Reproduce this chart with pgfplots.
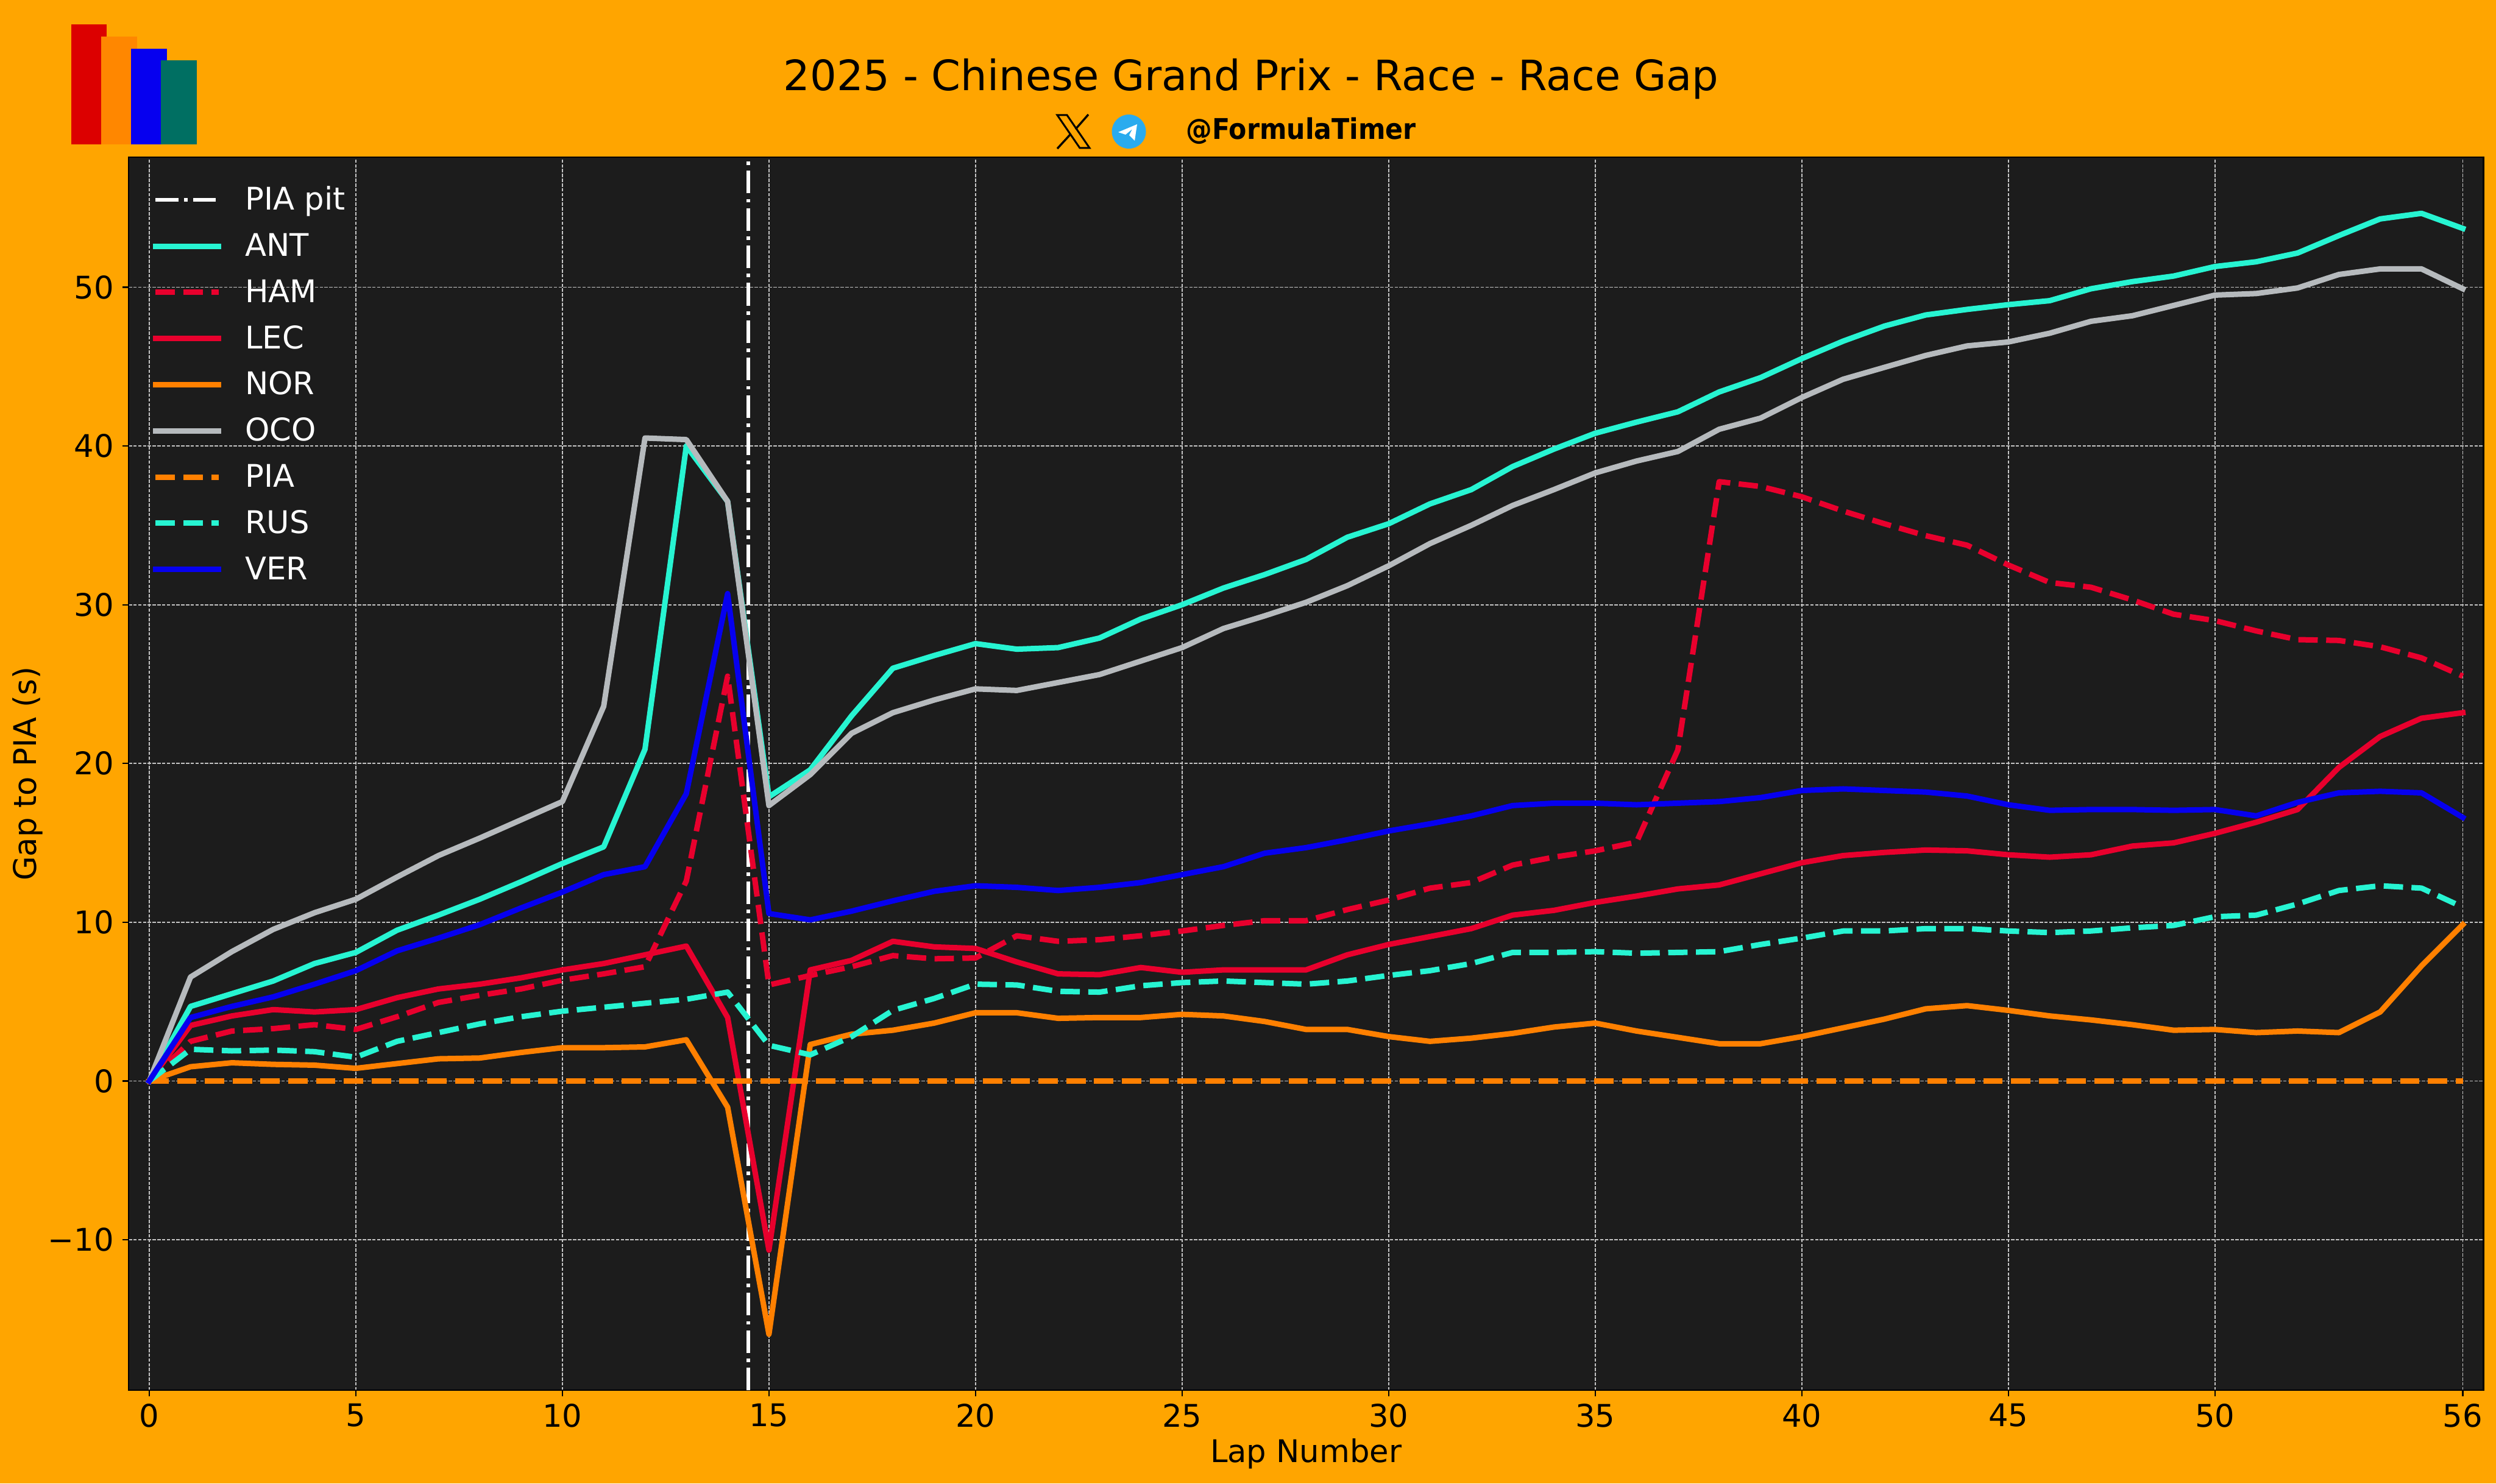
\documentclass[border=0pt]{standalone}
\usepackage{pgfplots}
\pgfplotsset{compat=1.18}
\usepackage{fontspec}
\setmainfont{DejaVu Sans}
\definecolor{bgor}{HTML}{FFA500}
\definecolor{panel}{HTML}{1C1C1C}
\definecolor{gridc}{HTML}{C4C4C4}
\definecolor{cANT}{HTML}{27F4D2}
\definecolor{cFER}{HTML}{E8002D}
\definecolor{cNOR}{HTML}{FF8000}
\definecolor{cOCO}{HTML}{B6BABD}
\definecolor{cVER}{HTML}{0600EF}
\definecolor{lgRed}{HTML}{DC0000}
\definecolor{lgOr}{HTML}{FF8700}
\definecolor{lgGr}{HTML}{006F62}
\definecolor{tg}{HTML}{2AABEE}
\pgfplotstableread{
lap ANT HAM LEC NOR OCO PIA RUS VER
0 0 0 0 0 0 0 0 0
1 4.7 2.5 3.5 0.9 6.55 0 2.0 4.0
2 5.5 3.15 4.1 1.15 8.15 0 1.9 4.7
3 6.3 3.3 4.5 1.05 9.55 0 1.95 5.3
4 7.4 3.55 4.35 1.0 10.6 0 1.85 6.1
5 8.1 3.25 4.5 0.8 11.45 0 1.5 6.95
6 9.5 4.05 5.25 1.1 12.85 0 2.5 8.2
7 10.45 4.95 5.8 1.4 14.2 0 3.05 9.0
8 11.45 5.4 6.1 1.45 15.3 0 3.6 9.85
9 12.55 5.8 6.5 1.8 16.45 0 4.05 10.9
10 13.7 6.35 7.0 2.1 17.6 0 4.4 11.9
11 14.75 6.75 7.4 2.1 23.6 0 4.65 13.0
12 20.9 7.2 7.95 2.15 40.5 0 4.9 13.5
13 40.0 12.6 8.5 2.6 40.4 0 5.15 18.1
14 36.5 25.5 4.0 -1.65 36.5 0 5.6 30.7
15 17.9 6.05 -10.65 -15.95 17.35 0 2.25 10.55
16 19.6 6.65 7.0 2.3 19.3 0 1.65 10.15
17 23.0 7.2 7.6 2.95 21.9 0 2.8 10.7
18 26.0 7.9 8.8 3.2 23.2 0 4.45 11.35
19 26.8 7.7 8.45 3.65 24.0 0 5.2 11.95
20 27.55 7.75 8.35 4.3 24.7 0 6.1 12.3
21 27.2 9.15 7.5 4.3 24.6 0 6.05 12.2
22 27.3 8.8 6.75 3.95 25.1 0 5.65 12.0
23 27.9 8.9 6.7 4.0 25.6 0 5.6 12.2
24 29.1 9.15 7.15 4.0 26.45 0 6.0 12.5
25 30.0 9.45 6.85 4.2 27.3 0 6.2 13.0
26 31.05 9.8 7.0 4.1 28.5 0 6.3 13.5
27 31.9 10.1 7.0 3.75 29.3 0 6.2 14.35
28 32.85 10.1 7.0 3.25 30.15 0 6.1 14.7
29 34.25 10.8 7.95 3.25 31.2 0 6.3 15.2
30 35.1 11.4 8.6 2.8 32.45 0 6.65 15.75
31 36.35 12.15 9.1 2.5 33.85 0 6.95 16.2
32 37.25 12.5 9.6 2.7 35.0 0 7.4 16.7
33 38.7 13.6 10.45 3.0 36.25 0 8.1 17.35
34 39.8 14.1 10.75 3.4 37.25 0 8.1 17.5
35 40.8 14.5 11.25 3.65 38.3 0 8.15 17.5
36 41.5 15.05 11.65 3.15 39.05 0 8.05 17.4
37 42.15 20.85 12.1 2.75 39.65 0 8.1 17.5
38 43.4 37.75 12.35 2.35 41.05 0 8.15 17.6
39 44.3 37.45 13.05 2.35 41.75 0 8.6 17.85
40 45.5 36.8 13.75 2.8 43.05 0 9.0 18.3
41 46.6 35.9 14.2 3.35 44.2 0 9.45 18.4
42 47.55 35.1 14.4 3.9 44.95 0 9.45 18.3
43 48.25 34.35 14.55 4.55 45.7 0 9.6 18.2
44 48.6 33.75 14.5 4.75 46.3 0 9.6 17.95
45 48.9 32.5 14.25 4.45 46.55 0 9.45 17.4
46 49.15 31.4 14.1 4.1 47.1 0 9.35 17.05
47 49.9 31.1 14.25 3.85 47.85 0 9.45 17.1
48 50.35 30.3 14.8 3.55 48.2 0 9.65 17.1
49 50.7 29.4 15.0 3.2 48.85 0 9.8 17.05
50 51.3 29.0 15.6 3.25 49.5 0 10.35 17.1
51 51.6 28.35 16.3 3.05 49.6 0 10.45 16.7
52 52.15 27.8 17.1 3.15 49.95 0 11.15 17.55
53 53.25 27.75 19.75 3.05 50.8 0 12.0 18.15
54 54.3 27.35 21.7 4.35 51.15 0 12.3 18.25
55 54.65 26.65 22.85 7.25 51.15 0 12.15 18.15
56 53.7 25.5 23.2 9.85 49.9 0 10.95 16.6
}\gaps
\pgfplotstableread{
x y
14.5 -19.48
14.5 58.18
}\pit
\def\px#1#2{({#1*0.25pt},{(2435-#2)*0.25pt})}
\begin{document}
\begin{tikzpicture}[x=1pt,y=1pt]
\useasboundingbox (0,0) rectangle (1024pt,608.75pt);
\fill[bgor] (0,0) rectangle (1024pt,608.75pt);
% logo
\fill[lgRed] \px{116.7}{40} rectangle \px{175.4}{237};
\fill[lgOr] \px{165.8}{60} rectangle \px{224.5}{237};
\fill[cVER] \px{215}{80} rectangle \px{273.6}{237};
\fill[lgGr] \px{264}{99.5} rectangle \px{322.7}{237};
% titles
\node[anchor=base,font=\fontsize{17.17}{20}\selectfont,inner sep=0pt] at \px{2053}{149} {2025 - Chinese Grand Prix - Race - Race Gap};
\node[anchor=base west,font=\fontsize{11.7}{14}\bfseries\selectfont,inner sep=0pt,xscale=0.912,transform shape] at \px{1946}{229} {@FormulaTimer};
% X icon
\draw[black,line width=0.75pt,line join=miter] \px{1735}{189} -- \px{1751}{189} -- \px{1788}{243} -- \px{1772}{243} -- cycle;
\draw[black,line width=0.85pt] \px{1786}{188} -- \px{1765}{212};
\draw[black,line width=0.85pt] \px{1735}{244} -- \px{1757}{220};
% Telegram icon
\fill[tg] \px{1852.5}{216} circle (7pt);
\fill[white] \px{1835}{217} -- \px{1866}{204} -- \px{1862}{231} -- \px{1853}{222} -- \px{1858}{212} -- \px{1847}{221} -- cycle;
\begin{axis}[
  at={(52.75pt,38.2pt)}, anchor=south west, scale only axis,
  width=966.1pt, height=506pt,
  xmin=-0.5, xmax=56.5, ymin=-19.48, ymax=58.18,
  axis background/.style={fill=panel},
  axis line style={black,line width=0.55pt},
  xtick={0,5,10,15,20,25,30,35,40,45,50,56},
  xticklabels={0,5,10,15,20,25,30,35,40,45,50,56},
  ytick={-10,0,10,20,30,40,50},
  yticklabels={−10,0,10,20,30,40,50},
  tick style={black,line width=0.55pt},
  tick align=outside, tick pos=left,
  major tick length=2.5pt,
  ticklabel style={font=\fontsize{12.8}{15}\selectfont,black},
  xticklabel style={yshift=0.5pt},
  grid=major,
  grid style={gridc,line width=0.45pt,dash pattern=on 1.38pt off 0.58pt},
  xlabel={Lap Number}, ylabel={Gap to PIA (s)},
  xlabel shift=-2.3pt, ylabel shift=-4.8pt,
  label style={font=\fontsize{12.8}{15}\selectfont,black},
  legend cell align=left,
  legend style={at={(rel axis cs:0,1)},anchor=north west,xshift=10pt,yshift=-12.2pt,
    draw=none,fill=none,text=white,font=\fontsize{12.8}{15}\selectfont,
    row sep=6.55pt,inner sep=0pt,outer sep=0pt,
    nodes={inner sep=0pt,text height=9.4pt,text depth=3pt}},
  legend image code/.code={\draw[#1] (0pt,0.9pt) -- (25.8pt,0.9pt);\path (35.6pt,0.9pt);},
  no markers,
]
\pgfplotsset{
  sol/.style={line width=2.25pt,line cap=rect,line join=round,solid},
  das/.style={line width=2.25pt,line cap=butt,line join=round,dash pattern=on 7.95pt off 3.45pt},
}
\addplot[white,line width=1.55pt,dash pattern=on 9.3pt off 2.3pt on 1.45pt off 2.3pt] table[x=x,y=y]{\pit};
\addlegendentry{PIA pit}
\addplot[cANT,sol] table[x=lap,y=ANT]{\gaps};\addlegendentry{ANT}
\addplot[cFER,das] table[x=lap,y=HAM]{\gaps};\addlegendentry{HAM}
\addplot[cFER,sol] table[x=lap,y=LEC]{\gaps};\addlegendentry{LEC}
\addplot[cNOR,sol] table[x=lap,y=NOR]{\gaps};\addlegendentry{NOR}
\addplot[cOCO,sol] table[x=lap,y=OCO]{\gaps};\addlegendentry{OCO}
\addplot[cNOR,das] table[x=lap,y=PIA]{\gaps};\addlegendentry{PIA}
\addplot[cANT,das] table[x=lap,y=RUS]{\gaps};\addlegendentry{RUS}
\addplot[cVER,sol] table[x=lap,y=VER]{\gaps};\addlegendentry{VER}
\end{axis}
\end{tikzpicture}
\end{document}
